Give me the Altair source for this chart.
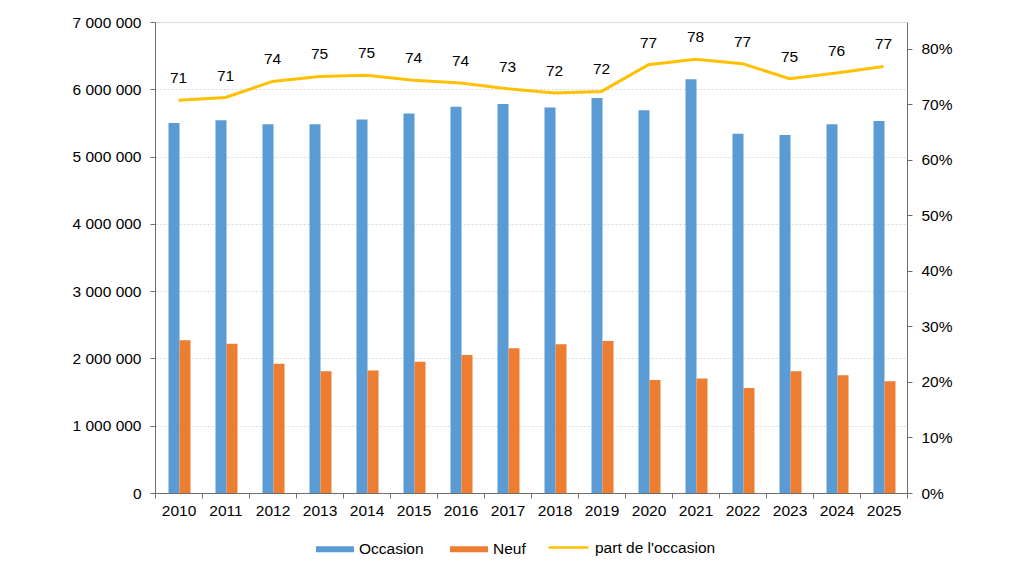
import altair as alt
import pandas as pd

years = [str(y) for y in range(2010, 2026)]
occasion = [5500000, 5540000, 5480000, 5480000, 5550000, 5640000, 5740000, 5780000,
            5730000, 5870000, 5690000, 6150000, 5340000, 5320000, 5480000, 5530000]
neuf = [2270000, 2220000, 1920000, 1810000, 1820000, 1950000, 2050000, 2150000,
        2210000, 2260000, 1680000, 1700000, 1560000, 1810000, 1750000, 1660000]
part = [70.7, 71.2, 74.1, 75.0, 75.2, 74.3, 73.8, 72.8,
        72.0, 72.3, 77.1, 78.1, 77.3, 74.6, 75.6, 76.8]

series_names = ["Occasion", "Neuf"]
line_name = "part de l'occasion"
BLUE, ORANGE, YELLOW = "#5B9BD5", "#ED7D31", "#FFC000"
FONT = "Liberation Sans"
FS = 15.5
AXIS_COLOR = "#6e6e6e"

bars_df = pd.DataFrame(
    [{"year": y, "type": "Occasion", "value": v} for y, v in zip(years, occasion)]
    + [{"year": y, "type": "Neuf", "value": v} for y, v in zip(years, neuf)]
)
line_df = pd.DataFrame({"year": years, "share": [p / 100 for p in part],
                        "label": [round(p) for p in part], "serie": line_name})

x_enc = alt.X("year:N", scale=alt.Scale(paddingInner=0, paddingOuter=0),
              axis=alt.Axis(title=None, labelAngle=0, tickBand="extent", tickSize=5,
                            labelPadding=5, labelFontSize=FS, labelFont=FONT,
                            labelColor="#000", domainColor=AXIS_COLOR, tickColor=AXIS_COLOR,
                            grid=False))

bars = alt.Chart(bars_df).mark_bar().encode(
    x=x_enc,
    xOffset=alt.XOffset("type:N", sort=series_names,
                        scale=alt.Scale(domain=series_names, paddingInner=0, paddingOuter=0,
                                        range=[13.5, 35.5])),
    y=alt.Y("value:Q", scale=alt.Scale(domain=[0, 7000000], nice=False),
            axis=alt.Axis(title=None, values=list(range(0, 7000001, 1000000)), format=",d",
                          tickSize=5, labelPadding=9, labelFontSize=FS, labelFont=FONT,
                          labelColor="#000", domainColor=AXIS_COLOR, tickColor=AXIS_COLOR,
                          grid=True, gridColor="#d9d9d9", gridDash=[2, 2])),
    color=alt.Color("type:N", sort=series_names,
                    scale=alt.Scale(domain=series_names, range=[BLUE, ORANGE]),
                    legend=alt.Legend(title=None, orient="none", legendX=161, legendY=508,
                                      direction="horizontal", symbolType="M-1,-0.16H1V0.16H-1Z",
                                      symbolSize=1444, symbolStrokeWidth=0, labelFontSize=FS,
                                      labelFont=FONT, labelColor="#000", columnPadding=26,
                                      labelOffset=5)),
)

y_right = alt.Scale(domain=[0, 0.848], nice=False)

line = alt.Chart(line_df).mark_line(strokeWidth=3).encode(
    x=x_enc,
    y=alt.Y("share:Q", scale=y_right,
            axis=alt.Axis(title=None, orient="right", values=[i / 10 for i in range(9)],
                          format=".0%", tickSize=5, labelPadding=9, labelFontSize=FS,
                          labelFont=FONT, labelColor="#000", domainColor=AXIS_COLOR,
                          tickColor=AXIS_COLOR, grid=False)),
    stroke=alt.Stroke("serie:N", scale=alt.Scale(domain=[line_name], range=[YELLOW]),
                      legend=alt.Legend(title=None, orient="none", legendX=392, legendY=504,
                                        symbolType="stroke", symbolSize=1600,
                                        symbolStrokeWidth=2.5, labelFontSize=FS,
                                        labelFont=FONT, labelColor="#000", labelOffset=5)),
)

text = alt.Chart(line_df).mark_text(dy=-22, fontSize=FS, font=FONT, color="#000").encode(
    x=x_enc,
    y=alt.Y("share:Q", scale=y_right, axis=None),
    text=alt.Text("label:Q", format="d"),
)

chart = alt.layer(bars, line, text).resolve_scale(
    y="independent", color="independent", stroke="independent"
).properties(
    width=752, height=471,
    autosize=alt.AutoSizeParams(type="none"),
    padding={"left": 147, "top": 14, "right": 100, "bottom": 80},
).configure_view(stroke=None).configure(
    locale={"number": {"decimal": ",", "thousands": "\u00a0", "grouping": [3],
                       "currency": ["", "\u00a0€"]}}
)

chart.save("out.html", embed_options={"renderer": "svg", "actions": False})
